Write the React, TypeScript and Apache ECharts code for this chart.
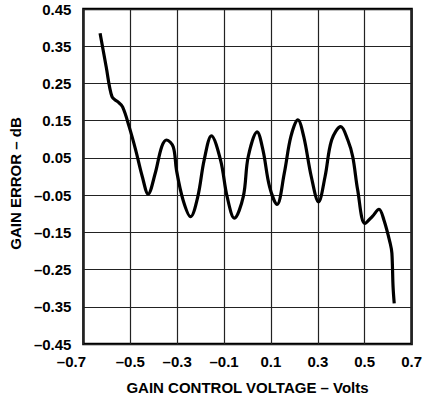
import React, { useEffect, useRef } from "react";
import * as echarts from "echarts";

const xValues = [
  -0.629, -0.603, -0.578, -0.554, -0.533, -0.505, -0.477, -0.449, -0.424, -0.394,
  -0.366, -0.345, -0.317, -0.303, -0.275, -0.243, -0.212, -0.185, -0.154, -0.115,
  -0.087, -0.056, -0.018, 0.003, 0.041, 0.066, 0.094, 0.126, 0.157, 0.185,
  0.215, 0.24, 0.272, 0.303, 0.331, 0.359, 0.398, 0.428, 0.449, 0.47,
  0.501, 0.533, 0.561, 0.582, 0.609, 0.616, 0.621, 0.626,
];
const gainError = [
  0.385, 0.295, 0.214, 0.201, 0.187, 0.134, 0.071, 0.0, -0.047, 0.008,
  0.08, 0.098, 0.08, 0.017, -0.063, -0.108, -0.054, 0.044, 0.109, 0.044,
  -0.054, -0.112, -0.054, 0.053, 0.12, 0.071, -0.027, -0.075, 0.009, 0.107,
  0.152, 0.107, 0.0, -0.068, 0.0, 0.098, 0.134, 0.098, 0.053, -0.036,
  -0.126, -0.107, -0.088, -0.117, -0.18, -0.206, -0.296, -0.341,
];

const xTitle = "GAIN CONTROL VOLTAGE \u2013 Volts";
const yTitle = "GAIN ERROR \u2013 dB";

const FONT = "'Liberation Sans', Arial, Helvetica, sans-serif";

function fmt(v: number, digits: number): string {
  const s = v.toFixed(digits);
  if (Number(s) === 0) return (0).toFixed(digits);
  return s.replace("-", "\u2013");
}

export default function App() {
  const ref = useRef<HTMLDivElement>(null);
  useEffect(() => {
    if (!ref.current) return;
    const chart = echarts.init(ref.current, undefined, { renderer: "svg" });
    const data = xValues.map((x, i) => [x, gainError[i]]);
    const minX = -0.7;
    chart.setOption({
      animation: false,
      backgroundColor: "#fff",
      grid: {
        left: 80,
        right: 10,
        top: 9,
        bottom: 58,
        show: true,
        borderColor: "#000",
        borderWidth: 2.5,
        backgroundColor: "transparent",
      },
      xAxis: {
        type: "value",
        min: minX,
        max: 0.7,
        interval: 0.2,
        name: xTitle,
        nameLocation: "middle",
        nameGap: 36,
        nameTextStyle: {
          fontFamily: FONT,
          fontWeight: "bold",
          fontSize: 15,
          color: "#000",
        },
        axisLine: { show: false },
        axisTick: { show: false },
        splitLine: { show: true, lineStyle: { color: "#222", width: 1.2 } },
        axisLabel: {
          margin: 10,
          fontFamily: FONT,
          fontWeight: "bold",
          fontSize: 15,
          color: "#000",
          formatter: (v: number) => {
            const t = fmt(v, 1);
            if (Math.abs(v - minX) < 1e-6) return "{first|" + t + "}";
            return t;
          },
          rich: {
            first: {
              fontFamily: FONT,
              fontWeight: "bold",
              fontSize: 15,
              color: "#000",
              padding: [0, 24, 0, 0],
            },
          },
        },
      },
      yAxis: {
        type: "value",
        min: -0.45,
        max: 0.45,
        interval: 0.1,
        name: yTitle,
        nameLocation: "middle",
        nameGap: 58,
        nameRotate: 90,
        nameTextStyle: {
          fontFamily: FONT,
          fontWeight: "bold",
          fontSize: 15,
          color: "#000",
          padding: [0, 14, 0, 0],
        },
        axisLine: { show: false },
        axisTick: { show: false },
        splitLine: { show: true, lineStyle: { color: "#222", width: 1.2 } },
        axisLabel: {
          margin: 12,
          fontFamily: FONT,
          fontWeight: "bold",
          fontSize: 15,
          color: "#000",
          formatter: (v: number) => fmt(v, 2),
        },
      },
      series: [
        {
          type: "line",
          data,
          smooth: 0.35,
          showSymbol: false,
          symbol: "none",
          lineStyle: { color: "#000", width: 3.2 },
        },
      ],
    });
    return () => chart.dispose();
  }, []);
  return (
    <div
      ref={ref}
      style={{ position: "fixed", left: 0, top: 0, width: 425, height: 402 }}
    />
  );
}
